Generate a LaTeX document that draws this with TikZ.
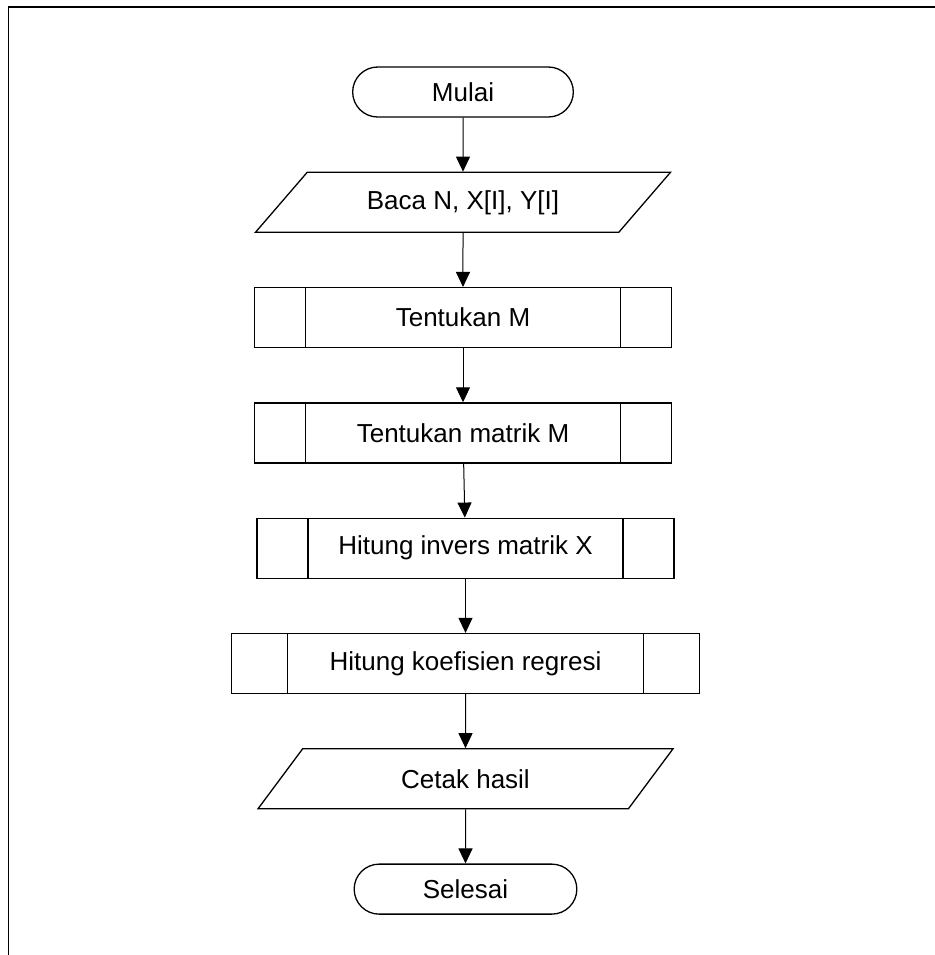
\documentclass[tikz,border=0pt]{standalone}
\usepackage{fontspec}
\setmainfont{Liberation Sans}
\usepackage{tikz}
\usetikzlibrary{positioning, shapes.geometric, shapes.misc, arrows.meta}
\tikzstyle{arrow} = [line width=0.5pt,->,>={Triangle[length=7.5pt,width=7pt]}]
\tikzstyle{startstop} = [rounded rectangle, draw, line width=0.65pt, minimum width=117pt, minimum height=25pt]
\tikzstyle{io} = [trapezium, trapezium left angle=36, trapezium right angle=144, trapezium stretches body, draw, line width=0.65pt, minimum width=207.5pt, minimum height=30pt]
\tikzset{subproc/.style 2 args={draw, line width=0.65pt, minimum width=#1, minimum height=30pt,
  path picture={
    \draw[line width=0.65pt] ([xshift=#2]path picture bounding box.north west) -- ([xshift=#2]path picture bounding box.south west);
    \draw[line width=0.65pt] ([xshift=-#2]path picture bounding box.north east) -- ([xshift=-#2]path picture bounding box.south east);
  }}}

\begin{document}
\begin{tikzpicture}[x=1pt, y=1pt, node distance=27pt, every node/.style={font=\fontsize{13}{15}\selectfont}]
  \useasboundingbox (0,0) rectangle (467.5,-477.5);

  % Frame
  \coordinate (frametl) at (4.25,-3.5);
  \coordinate (frametr) at (467.5,-3.5);
  \coordinate (framebl) at (4.25,-477.5);
  \draw[line width=0.9pt] (frametr) -- (frametl) -- (framebl);

  % Flowchart
  \node[startstop] (mulai) at (231.5,-46) {Mulai};
  \node[io, below=of mulai] (baca) {Baca N, X[I], Y[I]};
  \node[subproc={208.5pt}{25.5pt}, below=of baca] (tentm) {Tentukan M};
  \node[subproc={208.5pt}{25.5pt}, below=of tentm] (tentmat) {Tentukan matrik M};
  \node[subproc={208.5pt}{25.5pt}, below=of tentmat, xshift=1.25pt] (invers) {Hitung invers matrik X};
  \node[subproc={234pt}{28pt}, below=of invers] (koef) {Hitung koefisien regresi};
  \node[io, below=of koef] (cetak) {Cetak hasil};
  \node[startstop, minimum width=118pt, below=of cetak] (selesai) {Selesai};

  % Arrows
  \draw[arrow] (mulai) -- (baca);
  \draw[arrow] (baca) -- (tentm);
  \draw[arrow] (tentm) -- (tentmat);
  \draw[arrow] (tentmat) -- (invers);
  \draw[arrow] (invers) -- (koef);
  \draw[arrow] (koef) -- (cetak);
  \draw[arrow] (cetak) -- (selesai);
\end{tikzpicture}
\end{document}
